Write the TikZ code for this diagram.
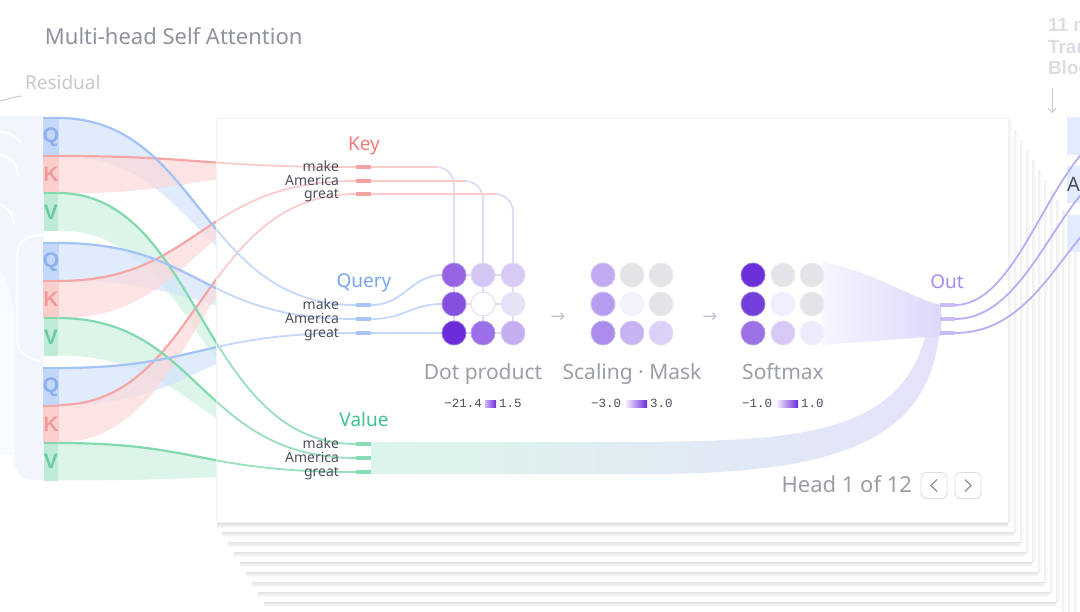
\documentclass[tikz,border=0pt]{standalone}
\usepackage{fontspec}
\setmainfont{Noto Sans}
\newfontfamily\heavyfont{Liberation Sans}
\newfontfamily\numfont{Liberation Mono}
\newfontfamily\symfont{DejaVu Sans}
\usetikzlibrary{arrows.meta}
\definecolor{titlegray}{HTML}{8F939E}
\definecolor{resgray}{HTML}{C6C9D0}
\definecolor{tokgray}{HTML}{4A4F5B}
\definecolor{capgray}{HTML}{9A9EA7}
\definecolor{qline}{HTML}{A3C2F5}
\definecolor{qband}{HTML}{D3E3FC}
\definecolor{qstrip}{HTML}{C3D7F9}
\definecolor{qtext}{HTML}{8BAFEF}
\definecolor{qlight}{HTML}{C5D8FA}
\definecolor{qbar}{HTML}{A8C5F6}
\definecolor{qlab}{HTML}{78A5F3}
\definecolor{kline}{HTML}{F5A7A7}
\definecolor{kband}{HTML}{FCD9D9}
\definecolor{kstrip}{HTML}{FBCECE}
\definecolor{ktext}{HTML}{F09B9B}
\definecolor{klight}{HTML}{F9CBCB}
\definecolor{kbar}{HTML}{F4A3A3}
\definecolor{klab}{HTML}{F27A7A}
\definecolor{vline}{HTML}{82D9AF}
\definecolor{vband}{HTML}{CFF1E1}
\definecolor{vstrip}{HTML}{BEEBD5}
\definecolor{vtext}{HTML}{6DCAA0}
\definecolor{vlight}{HTML}{98E0BD}
\definecolor{vbar}{HTML}{89DBB3}
\definecolor{vlab}{HTML}{3FC38C}
\definecolor{lav}{HTML}{E2DBF8}
\definecolor{outlab}{HTML}{A58BF1}
\definecolor{outline}{HTML}{BCACF5}
\definecolor{outbar}{HTML}{C9BBF8}
\definecolor{resbg}{HTML}{F1F6FD}
\definecolor{purpdark}{HTML}{6A2CD9}
\definecolor{purplite}{HTML}{CDB9F5}
\definecolor{btnline}{HTML}{DCDDE2}
\definecolor{chev}{HTML}{8C909A}
\definecolor{fadegray}{HTML}{DCDDE2}
\definecolor{rbox}{HTML}{E2ECFC}
\definecolor{arrgray}{HTML}{C3C6CC}
\definecolor{vbandL}{HTML}{DCF5EA}
\definecolor{vbandR}{HTML}{E4E2FB}
\definecolor{obandL}{HTML}{F7F5FE}
\definecolor{obandR}{HTML}{DED7FB}
\newcommand{\mcell}[4]{\definecolor{tmpc}{HTML}{#4}\node[cell] (#1) at (#2,#3) {};}
\newcommand{\ribbonband}[3]{\fill[#3, fill opacity=0.7] (58,#1) .. controls (200,#1) and (200,#2) .. (356,#2) -- (356,{#2+3}) .. controls (200,{#2+3}) and (200,{#1+37.5}) .. (58,{#1+37.5}) -- cycle;}
\begin{document}
\begin{tikzpicture}[x=1pt,y=-1pt,
  every node/.style={inner sep=0pt, outer sep=0pt},
  strip/.style={minimum width=14pt, minimum height=37.5pt, font=\heavyfont\bfseries\fontsize{21}{21}\selectfont},
  tok/.style={anchor=base east, font=\fontsize{14}{14}\selectfont, text=tokgray},
  grp/.style={anchor=base, font=\fontsize{19}{19}\selectfont},
  capt/.style={anchor=base, font=\fontsize{21}{21}\selectfont, text=capgray},
  num/.style={font=\numfont\fontsize{12.5}{12.5}\selectfont, text=tokgray},
  cell/.style={circle, minimum size=24pt, fill=tmpc, draw=tmpc!70!white, line width=0.8pt},
  strongline/.style={line width=2.2pt},
  softline/.style={line width=1.8pt},
  tokbar/.style={line width=4pt},
  arrsym/.style={font=\symfont\fontsize{18}{18}\selectfont, text=arrgray},
  btn/.style={draw=btnline, line width=0.9pt, rounded corners=5pt, minimum width=26pt, minimum height=26pt, fill=white},
  fadetxt/.style={anchor=base west, font=\heavyfont\bfseries\fontsize{19}{19}\selectfont, text=fadegray},
]
\clip (0,0) rectangle (1080,612);
\fill[white] (0,0) rectangle (1080,612);

% ---------- title and residual ----------
\node[anchor=base west, font=\fontsize{22}{22}\selectfont, text=titlegray] (title) at (45,45) {Multi-head Self Attention};
\node[anchor=base west, font=\fontsize{19}{19}\selectfont, text=resgray] (resid) at (25,90) {Residual};
\coordinate (resA) at (0,101);
\coordinate (resB) at (22,96);
\draw[resgray, line width=1pt] (resA) .. controls +(8,-2) and +(-7,0.5) .. (resB);

% residual stream background
\fill[resbg] (0,116) -- (44,116) -- (44,480) -- (36,480) .. controls (20,480) and (14,472) .. (14,455) -- (14,330) .. controls (14,300) and (8,280) .. (0,270) -- cycle;
\fill[resbg!55!white] (0,270) .. controls (8,280) and (14,300) .. (14,330) -- (14,455) -- (0,455) -- cycle;
\begin{scope}[white, line width=2.5pt, line cap=round, opacity=0.85]
  \draw (0,132) .. controls (8,132) and (16,136) .. (20,142);
  \draw (0,155) .. controls (10,156) and (17,163) .. (18,176);
  \draw (0,205) .. controls (8,207) and (13,214) .. (14,224);
  \draw (44,235) .. controls (26,235) and (18,241) .. (17,256) -- (17,340) .. controls (18,352) and (26,360) .. (44,361);
\end{scope}

% ---------- ribbons (bands) ----------
\ribbonband{118}{305}{qband}
\ribbonband{156}{167}{kband}
\ribbonband{193}{444}{vband}
\ribbonband{243}{319}{qband}
\ribbonband{281}{181}{kband}
\ribbonband{318}{458}{vband}
\ribbonband{368}{333}{qband}
\ribbonband{405}{194}{kband}
\ribbonband{443}{472}{vband}

% ribbon start/end coordinates
\coordinate (q1s) at (58,118); \coordinate (k1s) at (58,156); \coordinate (v1s) at (58,193);
\coordinate (q2s) at (58,243); \coordinate (k2s) at (58,281); \coordinate (v2s) at (58,318);
\coordinate (q3s) at (58,368); \coordinate (k3s) at (58,405); \coordinate (v3s) at (58,443);
\coordinate (kb1) at (356,167); \coordinate (kb2) at (356,181); \coordinate (kb3) at (356,194);
\coordinate (qb1) at (356,305); \coordinate (qb2) at (356,319); \coordinate (qb3) at (356,333);
\coordinate (vb1) at (356,444); \coordinate (vb2) at (356,458); \coordinate (vb3) at (356,472);
\coordinate (kb1e) at (371,167); \coordinate (kb2e) at (371,181); \coordinate (kb3e) at (371,194);
\coordinate (qb1e) at (371,305); \coordinate (qb2e) at (371,319); \coordinate (qb3e) at (371,333);
\coordinate (vb1e) at (371,444); \coordinate (vb2e) at (371,458); \coordinate (vb3e) at (371,472);

\begin{scope}[strongline]
  \draw[kline] (k1s) .. controls +(142,0) and +(-156,0) .. (kb1);
  \draw[kline] (k2s) .. controls +(142,0) and +(-156,0) .. (kb2);
  \draw[kline] (k3s) .. controls +(142,0) and +(-156,0) .. (kb3);
  \draw[vline] (v1s) .. controls +(142,0) and +(-156,0) .. (vb1);
  \draw[vline] (v2s) .. controls +(142,0) and +(-156,0) .. (vb2);
  \draw[vline] (v3s) .. controls +(142,0) and +(-156,0) .. (vb3);
  \draw[qline] (q1s) .. controls +(142,0) and +(-156,0) .. (qb1);
  \draw[qline] (q2s) .. controls +(142,0) and +(-156,0) .. (qb2);
  \draw[qline] (q3s) .. controls +(142,0) and +(-156,0) .. (qb3);
\end{scope}

% ---------- stacked cards ----------
\foreach \i in {11,10,...,1} {
  \pgfmathsetmacro\dx{6*\i}
  \pgfmathsetmacro\dy{10*\i}
  \shade[top color=black!11, bottom color=white] ({216+\dx},{522+\dy}) rectangle ({1008+\dx},{527+\dy});
  \shade[left color=black!6, right color=white] ({1008+\dx},{121+\dy}) rectangle ({1012+\dx},{522+\dy});
  \fill[white] ({216+\dx},{118+\dy}) rectangle ({1008+\dx},{522+\dy});
}
% main card
\shade[top color=black!15, bottom color=white] (217,522) rectangle (1008,528);
\shade[left color=black!7, right color=white] (1008,121) rectangle (1012,522);
\fill[white] (216,118) rectangle (1008,522);
\draw[black!5, line width=0.8pt] (216,118) rectangle (1008,522);

% ---------- light continuation of ribbon lines inside card ----------
\begin{scope}
  \clip (216.5,118.5) rectangle (1007,521);
  \begin{scope}[softline]
    \draw[klight] (k1s) .. controls +(142,0) and +(-156,0) .. (kb1);
    \draw[klight] (k2s) .. controls +(142,0) and +(-156,0) .. (kb2);
    \draw[klight] (k3s) .. controls +(142,0) and +(-156,0) .. (kb3);
    \draw[vlight] (v1s) .. controls +(142,0) and +(-156,0) .. (vb1);
    \draw[vlight] (v2s) .. controls +(142,0) and +(-156,0) .. (vb2);
    \draw[vlight] (v3s) .. controls +(142,0) and +(-156,0) .. (vb3);
    \draw[qlight] (q1s) .. controls +(142,0) and +(-156,0) .. (qb1);
    \draw[qlight] (q2s) .. controls +(142,0) and +(-156,0) .. (qb2);
    \draw[qlight] (q3s) .. controls +(142,0) and +(-156,0) .. (qb3);
  \end{scope}
\end{scope}

% ---------- value band and softmax band to Out ----------
\coordinate (outtop) at (941,305);
\shade[left color=vbandL, right color=vbandR]
  (371,442) -- (600,442) .. controls (800,442) and (915,440) .. (930,310) -- (outtop) .. controls (940,420) and (880,474) .. (650,474) -- (371,474) -- cycle;
\shade[left color=obandL, right color=obandR]
  (822,262) .. controls (875,272) and (915,300) .. (outtop) -- (941,336) .. controls (900,339) and (860,342) .. (822,345) -- cycle;

% ---------- key lines into dot product ----------
\begin{scope}[line width=1.8pt]
  \draw[lav, rounded corners=18pt] (437,167) -- (454,167) -- (454,333);
  \draw[lav, rounded corners=18pt] (466,181) -- (483,181) -- (483,333);
  \draw[lav, rounded corners=18pt] (496,194) -- (513,194) -- (513,333);
  \draw[klight] (kb1e) -- (437,167);
  \draw[klight] (kb2e) -- (466,181);
  \draw[klight] (kb3e) -- (496,194);
  % query lines
  \draw[qlight] (qb1e) .. controls (405,305) and (410,275) .. (443,275);
  \draw[qlight] (qb2e) .. controls (405,319) and (410,304) .. (443,304);
  \draw[qlight] (qb3e) -- (443,333);
  \draw[lav] (443,275) -- (513,275);
  \draw[lav] (443,304) -- (513,304);
  \draw[lav] (443,333) -- (513,333);
\end{scope}

% ---------- matrices ----------
\mcell{d11}{454}{275}{9563E3} \mcell{d12}{483}{275}{D5C7F3} \mcell{d13}{513}{275}{D7CAF4}
\mcell{d21}{454}{304}{8450DE}
\node[circle, minimum size=24pt, fill=white, draw=lav, line width=0.9pt] (d22) at (483,304) {};
\mcell{d23}{513}{304}{E7E1F8}
\mcell{d31}{454}{333}{6A2CD9} \mcell{d32}{483}{333}{9B6FE5} \mcell{d33}{513}{333}{C5AEEF}

\mcell{s11}{603}{275}{C2AAF1} \mcell{s12}{632}{275}{E4E4E8} \mcell{s13}{661}{275}{E4E4E8}
\mcell{s21}{603}{304}{B79DEF} \mcell{s22}{632}{304}{F4F1FC} \mcell{s23}{661}{304}{E4E4E8}
\mcell{s31}{603}{333}{AA8CED} \mcell{s32}{632}{333}{C7B2F2} \mcell{s33}{661}{333}{DCD0F7}

\mcell{m11}{753}{275}{6B2FD9} \mcell{m12}{783}{275}{E4E4E8} \mcell{m13}{812}{275}{E4E4E8}
\mcell{m21}{753}{304}{7240DB} \mcell{m22}{783}{304}{F1EDFC} \mcell{m23}{812}{304}{E4E4E8}
\mcell{m31}{753}{333}{9A72E6} \mcell{m32}{783}{333}{D7C8F5} \mcell{m33}{812}{333}{EEE9FB}

\node[arrsym] (arr1) at (558,318) {→};
\node[arrsym] (arr2) at (710,318) {→};

\node[capt] (cdot) at (483,380) {Dot product};
\node[capt] (cscale) at (632,380) {Scaling · Mask};
\node[capt] (csoft) at (783,380) {Softmax};

% scale bars
\shade[left color=purplite, right color=purpdark] (485,401) rectangle (496,408);
\node[num, anchor=base east] (n1a) at (482,408) {−21.4};
\node[num, anchor=base west] (n1b) at (499,408) {1.5};
\shade[left color=white, right color=purpdark] (624,401) rectangle (647,408);
\node[num, anchor=base east] (n2a) at (621,408) {−3.0};
\node[num, anchor=base west] (n2b) at (650,408) {3.0};
\shade[left color=white, right color=purpdark] (775,401) rectangle (798,408);
\node[num, anchor=base east] (n3a) at (772,408) {−1.0};
\node[num, anchor=base west] (n3b) at (801,408) {1.0};

% ---------- token labels and bars ----------
\node[grp, text=klab] (keylab) at (364,151) {Key};
\node[grp, text=qlab] (querylab) at (364,288) {Query};
\node[grp, text=vlab] (valuelab) at (364,427) {Value};

\node[tok] (km) at (339,172) {make};
\node[tok] (ka) at (339,186) {America};
\node[tok] (kg) at (339,199) {great};
\node[tok] (qm) at (339,310) {make};
\node[tok] (qa) at (339,324) {America};
\node[tok] (qg) at (339,338) {great};
\node[tok] (vm) at (339,449) {make};
\node[tok] (va) at (339,463) {America};
\node[tok] (vg) at (339,477) {great};

\begin{scope}[tokbar]
  \draw[kbar] (kb1) -- (kb1e); \draw[kbar] (kb2) -- (kb2e); \draw[kbar] (kb3) -- (kb3e);
  \draw[qbar] (qb1) -- (qb1e); \draw[qbar] (qb2) -- (qb2e); \draw[qbar] (qb3) -- (qb3e);
  \draw[vbar] (vb1) -- (vb1e); \draw[vbar] (vb2) -- (vb2e); \draw[vbar] (vb3) -- (vb3e);
\end{scope}

% ---------- Out ----------
\node[grp, text=outlab] (outlab) at (947,289) {Out};
\coordinate (o1) at (940,305); \coordinate (o1e) at (955,305);
\coordinate (o2) at (940,319); \coordinate (o2e) at (955,319);
\coordinate (o3) at (940,333); \coordinate (o3e) at (955,333);
\draw[outbar, tokbar] (o1) -- (o1e);
\draw[outbar, tokbar] (o2) -- (o2e);
\draw[outbar, tokbar] (o3) -- (o3e);

% ---------- Head pager ----------
\node[anchor=base east, font=\fontsize{22}{22}\selectfont, text=capgray] (head) at (912,493) {Head 1 of 12};
\node[btn] (prev) at (934,485.5) {};
\node[btn] (next) at (968,485.5) {};
\draw[chev, line width=1.1pt] ([shift={(3,-6)}]prev.center) -- ([shift={(-3,0)}]prev.center) -- ([shift={(3,6)}]prev.center);
\draw[chev, line width=1.1pt] ([shift={(-3,-6)}]next.center) -- ([shift={(3,0)}]next.center) -- ([shift={(-3,6)}]next.center);

% ---------- right side (next blocks) ----------
\node[fadetxt] (more1) at (1048,32) {11 more};
\node[fadetxt] (more2) at (1048,54) {Transformer};
\node[fadetxt] (more3) at (1048,75) {Blocks};
\coordinate (dnA) at (1052,88);
\coordinate (dnB) at (1052,113);
\draw[resgray, line width=0.9pt, -{Straight Barb[length=4pt,width=8pt]}] (dnA) -- (dnB);
\fill[rbox] (1067,117) rectangle (1080,155);
\fill[rbox] (1067,166) rectangle (1080,203);
\fill[rbox] (1067,215) rectangle (1080,252);
\node[anchor=base west, font=\fontsize{20}{20}\selectfont, text=tokgray] (attn) at (1067,192) {Attention};

\coordinate (r1) at (1085,150);
\coordinate (r2) at (1085,190);
\coordinate (r3) at (1085,232);
\begin{scope}[outline, line width=1.8pt]
  \draw (o1e) .. controls +(55,0) and +(-45,50) .. (r1);
  \draw (o2e) .. controls +(60,0) and +(-40,45) .. (r2);
  \draw (o3e) .. controls +(65,0) and +(-35,40) .. (r3);
\end{scope}

% ---------- Q K V strips ----------
\node[strip, fill=qstrip, text=qtext] (Q1) at (51,136.75) {Q};
\node[strip, fill=kstrip, text=ktext] (K1) at (51,174.5) {K};
\node[strip, fill=vstrip, text=vtext] (V1) at (51,212) {V};
\node[strip, fill=qstrip, text=qtext] (Q2) at (51,261.75) {Q};
\node[strip, fill=kstrip, text=ktext] (K2) at (51,299.5) {K};
\node[strip, fill=vstrip, text=vtext] (V2) at (51,337) {V};
\node[strip, fill=qstrip, text=qtext] (Q3) at (51,386.75) {Q};
\node[strip, fill=kstrip, text=ktext] (K3) at (51,424.5) {K};
\node[strip, fill=vstrip, text=vtext] (V3) at (51,461.75) {V};
\begin{scope}[strongline]
  \draw[qline] (Q1.north west) -- (Q1.north east);
  \draw[kline] (K1.north west) -- (K1.north east);
  \draw[vline] (V1.north west) -- (V1.north east);
  \draw[qline] (Q2.north west) -- (Q2.north east);
  \draw[kline] (K2.north west) -- (K2.north east);
  \draw[vline] (V2.north west) -- (V2.north east);
  \draw[qline] (Q3.north west) -- (Q3.north east);
  \draw[kline] (K3.north west) -- (K3.north east);
  \draw[vline] (V3.north west) -- (V3.north east);
\end{scope}
\end{tikzpicture}
\end{document}
